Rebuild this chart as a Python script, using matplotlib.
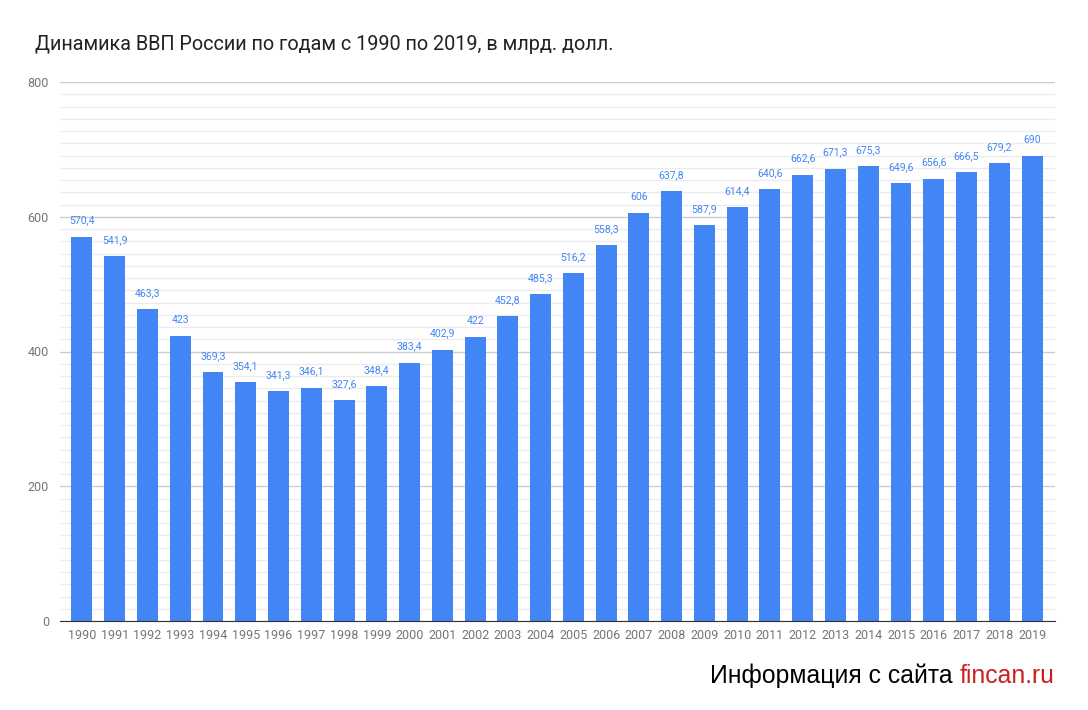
import matplotlib
matplotlib.use("Agg")
import matplotlib.pyplot as plt
import numpy as np

plt.rcParams['font.family'] = ['Roboto', 'DejaVu Sans']

# Data
years = list(range(1990, 2020))
gdp = [570.4, 541.9, 463.3, 423, 369.3, 354.1, 341.3, 346.1, 327.6, 348.4,
       383.4, 402.9, 422, 452.8, 485.3, 516.2, 558.3, 606, 637.8, 587.9,
       614.4, 640.6, 662.6, 671.3, 675.3, 649.6, 656.6, 666.5, 679.2, 690]
labels = ["570,4", "541,9", "463,3", "423", "369,3", "354,1", "341,3", "346,1",
          "327,6", "348,4", "383,4", "402,9", "422", "452,8", "485,3", "516,2",
          "558,3", "606", "637,8", "587,9", "614,4", "640,6", "662,6", "671,3",
          "675,3", "649,6", "656,6", "666,5", "679,2", "690"]
title = "Динамика ВВП России по годам с 1990 по 2019, в млрд. долл."

blue = "#4285F4"

fig = plt.figure(figsize=(10.88, 7.10), dpi=100)
ax = fig.add_axes([60/1088, 1 - 621/710, (1055-60)/1088, (621-82)/710])

x = np.arange(len(years))
ax.bar(x, gdp, width=0.64, color=blue, zorder=3)
for xi, v, lab in zip(x, gdp, labels):
    ax.annotate(lab, (xi, v), xytext=(0, 8), textcoords="offset points",
                ha="center", va="bottom", fontsize=7.6, color=blue)

ax.set_xlim(-0.67, len(years) - 0.3)
ax.set_ylim(0, 800)
ax.set_yticks([0, 200, 400, 600, 800])
ax.set_yticks(np.linspace(0, 800, 45), minor=True)
ax.grid(axis='y', which='major', color='#cccccc', linewidth=1, zorder=0)
ax.grid(axis='y', which='minor', color='#ececec', linewidth=1, zorder=0)
ax.set_xticks(x)
ax.set_xticklabels([str(y) for y in years])
ax.tick_params(axis='both', which='both', length=0, labelsize=9, colors='#757575')
ax.tick_params(axis='x', pad=6)
ax.tick_params(axis='y', pad=8)
for s in ['top', 'right', 'left']:
    ax.spines[s].set_visible(False)
ax.spines['bottom'].set_color('#333333')
ax.spines['bottom'].set_zorder(4)

fig.text(35/1088, 1 - 45/710, title, fontsize=14.3, color='#222222', va='center', ha='left')

t1 = fig.text(710/1088, 1 - 676/710, "Информация с сайта ", fontsize=17.8,
              color='black', va='center', ha='left', family=['Liberation Sans'])
fig.canvas.draw()
bb = t1.get_window_extent()
fig.text(bb.x1 / fig.bbox.width, 1 - 676/710, "fincan.ru", fontsize=17.8,
         color='#cc1f1f', va='center', ha='left', family=['Liberation Sans'])

fig.savefig("out.png", dpi=100)
